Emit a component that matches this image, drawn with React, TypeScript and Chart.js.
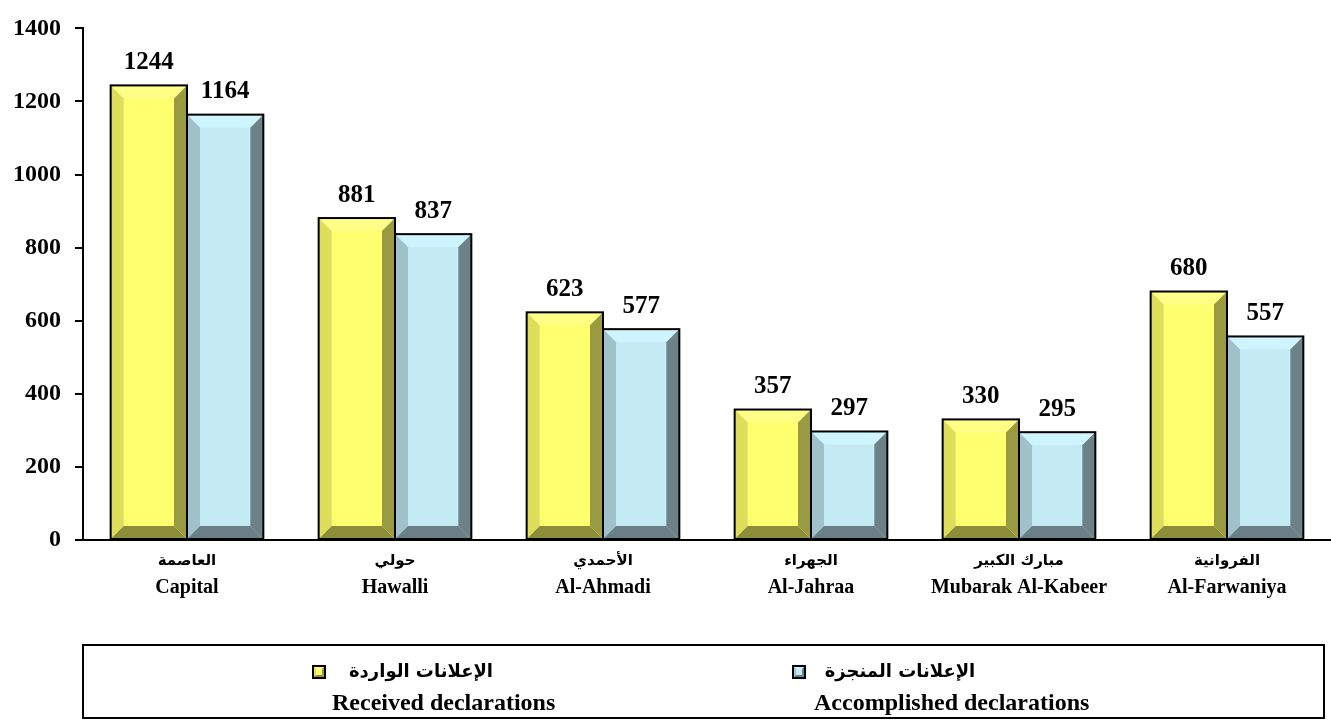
import React, { useEffect, useRef } from "react";
import { Chart, registerables } from "chart.js";

Chart.register(...registerables);

const categoriesAr = ["العاصمة", "حولي", "الأحمدي", "الجهراء", "مبارك الكبير", "الفروانية"];
const categoriesEn = ["Capital", "Hawalli", "Al-Ahmadi", "Al-Jahraa", "Mubarak Al-Kabeer", "Al-Farwaniya"];
const receivedValues = [1244, 881, 623, 357, 330, 680];
const accomplishedValues = [1164, 837, 577, 297, 295, 557];
const seriesAr = ["الإعلانات الواردة", "الإعلانات المنجزة"];
const seriesEn = ["Received declarations", "Accomplished declarations"];
const yTicks = [0, 200, 400, 600, 800, 1000, 1200, 1400];

const SERIF = '"Liberation Serif", "Times New Roman", serif';
const ARABIC = '"DejaVu Sans", sans-serif';

type Palette = { face: string; top: string; left: string; right: string; bottom: string };
const palettes: Palette[] = [
  { face: "#FFFF70", top: "#FFFF88", left: "#DEDE5C", right: "#9A9A40", bottom: "#8E8E3A" },
  { face: "#C4EAF4", top: "#CDF4FF", left: "#A0C0CA", right: "#6C8288", bottom: "#6A8086" },
];

function drawBevelBox(ctx: CanvasRenderingContext2D, l: number, t: number, r: number, b: number, bevel: number, p: Palette, lw: number) {
  const h = b - t;
  const w = r - l;
  const d = Math.max(0, Math.min(bevel, h / 3, w / 3));
  const poly = (pts: number[][], color: string) => {
    ctx.beginPath();
    ctx.moveTo(pts[0][0], pts[0][1]);
    for (let i = 1; i < pts.length; i++) ctx.lineTo(pts[i][0], pts[i][1]);
    ctx.closePath();
    ctx.fillStyle = color;
    ctx.fill();
  };
  ctx.save();
  ctx.fillStyle = p.face;
  ctx.fillRect(l, t, w, h);
  poly([[l, t], [r, t], [r - d, t + d], [l + d, t + d]], p.top);
  poly([[l, t], [l + d, t + d], [l + d, b - d], [l, b]], p.left);
  poly([[r, t], [r, b], [r - d, b - d], [r - d, t + d]], p.right);
  poly([[l, b], [r, b], [r - d, b - d], [l + d, b - d]], p.bottom);
  ctx.strokeStyle = "#000";
  ctx.lineWidth = lw;
  ctx.strokeRect(l, t, w, h);
  ctx.restore();
}

const bevelBarsPlugin = {
  id: "bevelBars",
  afterDatasetsDraw(chart: any) {
    const ctx = chart.ctx;
    chart.data.datasets.forEach((_ds: any, di: number) => {
      const meta = chart.getDatasetMeta(di);
      meta.data.forEach((el: any) => {
        const { x, y, base, width } = el.getProps(["x", "y", "base", "width"], true);
        drawBevelBox(ctx, x - width / 2, Math.min(y, base), x + width / 2, Math.max(y, base), 13, palettes[di], 2);
      });
    });
    ctx.save();
    ctx.font = `bold 25px ${SERIF}`;
    ctx.fillStyle = "#000";
    ctx.textAlign = "center";
    ctx.textBaseline = "middle";
    chart.data.datasets.forEach((ds: any, di: number) => {
      const meta = chart.getDatasetMeta(di);
      meta.data.forEach((el: any, i: number) => {
        const { x, y } = el.getProps(["x", "y"], true);
        ctx.fillText(String(ds.data[i]), x, y - 23);
      });
    });
    ctx.restore();
  },
};

const xLabelsPlugin = {
  id: "xLabels",
  afterDraw(chart: any) {
    const ctx = chart.ctx;
    const xs = chart.scales.x;
    const bottom = chart.chartArea.bottom;
    ctx.save();
    ctx.fillStyle = "#000";
    ctx.textAlign = "center";
    ctx.textBaseline = "middle";
    categoriesEn.forEach((en, i) => {
      const x = xs.getPixelForValue(i);
      ctx.font = `bold 15px ${ARABIC}`;
      ctx.fillText(categoriesAr[i], x, bottom + 21);
      ctx.font = `bold 20px ${SERIF}`;
      ctx.fillText(en, x, bottom + 48);
    });
    ctx.restore();
  },
};

const legendPlugin = {
  id: "customLegend",
  afterDraw(chart: any) {
    const ctx = chart.ctx;
    ctx.save();
    ctx.strokeStyle = "#000";
    ctx.lineWidth = 2;
    ctx.strokeRect(83, 645, 1241, 73);
    const items = [
      { marker: 313, arCenter: 421, enLeft: 332 },
      { marker: 793, arCenter: 900, enLeft: 814 },
    ];
    items.forEach((it, i) => {
      drawBevelBox(ctx, it.marker, 666, it.marker + 12, 678, 3, palettes[i], 2);
      ctx.fillStyle = "#000";
      ctx.textBaseline = "middle";
      ctx.textAlign = "center";
      ctx.font = `bold 18px ${ARABIC}`;
      ctx.fillText(seriesAr[i], it.arCenter, 672);
      ctx.textAlign = "left";
      ctx.font = `bold 24px ${SERIF}`;
      ctx.fillText(seriesEn[i], it.enLeft, 704);
    });
    ctx.restore();
  },
};

export default function App() {
  const ref = useRef<HTMLCanvasElement | null>(null);
  useEffect(() => {
    if (!ref.current) return;
    const chart = new Chart(ref.current, {
      type: "bar",
      data: {
        labels: categoriesEn,
        datasets: [
          { label: seriesEn[0], data: receivedValues, backgroundColor: "rgba(0,0,0,0)", borderWidth: 0 },
          { label: seriesEn[1], data: accomplishedValues, backgroundColor: "rgba(0,0,0,0)", borderWidth: 0 },
        ],
      },
      options: {
        animation: false,
        responsive: false,
        events: [],
        layout: { padding: { top: 24, left: 0, right: 0, bottom: 0 } },
        datasets: { bar: { categoryPercentage: 0.734, barPercentage: 1 } },
        plugins: { legend: { display: false }, tooltip: { enabled: false }, title: { display: false } },
        scales: {
          x: {
            grid: { display: false },
            border: { display: true, color: "#000", width: 2 },
            ticks: { display: false },
            afterFit: (s: any) => {
              s.height = 180;
            },
          },
          y: {
            min: 0,
            max: 1400,
            afterBuildTicks: (s: any) => {
              s.ticks = yTicks.map((v) => ({ value: v }));
            },
            ticks: {
              color: "#000",
              padding: 14,
              font: { family: SERIF, weight: "bold", size: 24 },
              callback: (v: any) => String(v),
            },
            grid: { drawOnChartArea: false, drawTicks: true, tickLength: 8, color: "#000", lineWidth: 2 },
            border: { display: true, color: "#000", width: 2 },
            afterFit: (s: any) => {
              s.width = 83;
            },
          },
        },
      },
      plugins: [bevelBarsPlugin, xLabelsPlugin, legendPlugin],
    } as any);
    return () => chart.destroy();
  }, []);
  return (
    <div style={{ position: "fixed", left: 0, top: 0, width: 1331, height: 720, background: "#fff" }}>
      <canvas ref={ref} width={1331} height={720} style={{ width: 1331, height: 720, display: "block" }} />
    </div>
  );
}
